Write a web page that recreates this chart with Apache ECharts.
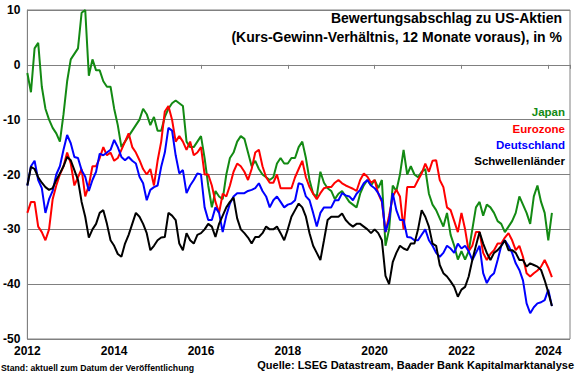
<!DOCTYPE html>
<html>
<head>
<meta charset="utf-8">
<script src="https://cdn.jsdelivr.net/npm/echarts@6/dist/echarts.min.js"></script>
<style>
  html, body { margin: 0; padding: 0; background: #fff; }
  #chart { width: 580px; height: 375px; }
</style>
</head>
<body>
<div id="chart"></div>
<script>
// monthly values, Jan 2012 .. Feb 2024
const startYear = 2012;

const japan = [
  -1.5, -5, 3, 4, -4, -8, -10, -11.5, -12.5, -14, -9, -3,
  1, 2, 3, 9.5, 10, -2, 1, -1, -1, -3, -4, -4,
  -8, -11, -15, -14, -13, -12, -11, -10, -8, -9, -11, -9.5,
  -12, -12, -9.5, -8, -7, -6.5, -7, -7.5, -14, -15, -15, -14,
  -13, -17, -22, -26, -23, -24, -24.5, -20, -17, -16, -14, -13,
  -13.5, -16, -18.5, -17.5, -19, -20, -20.5, -21, -20.5, -18, -17, -18,
  -18, -17, -17, -15, -14, -17, -21, -23.5, -24, -19.5, -21.5, -22.5,
  -23, -24.5, -23.5, -23, -24, -25, -25.5, -26, -23.5, -22, -21, -22,
  -21, -22.5, -21, -33, -30, -22, -23, -20, -15.5, -20, -18.5, -20,
  -20.5, -19.5, -19, -23.5, -25.5, -26.5, -28, -29.5, -27, -31, -33, -35.5,
  -34, -35.5, -34, -30, -26, -25, -27.5, -25.5, -26, -27, -28.5, -29,
  -30.5, -29.5, -28.5, -27, -24, -25.5, -27, -29, -24, -22, -25, -27,
  -32, -27
];

const eurozone = [
  -27, -25, -25, -29.5, -30.5, -32, -30, -24.5, -22, -20, -18.5, -16,
  -18, -22, -20.5, -19, -24, -22, -18.5, -18.5, -17, -15, -16.5, -16,
  -17.5, -17, -15.5, -14, -12.5, -15, -16, -17.4, -19, -20, -19, -22,
  -17.5, -14, -8.5, -7.5, -10, -14, -13, -14, -15.5, -14, -16.5, -16,
  -15, -20, -20, -22, -25, -27, -23.5, -24, -22, -19.5, -18, -18.5,
  -19.5, -21, -19, -16, -15.5, -18.5, -20.5, -21.5, -21.5, -20, -22.5, -22.5,
  -22.5, -22.5, -20.5, -19, -17.5, -20.5, -22.3, -23.5, -24.5, -23.4, -22.5, -22.3,
  -22.3, -21.5, -21, -21.6, -22, -22.3, -22.6, -23, -21, -19.8, -20.4, -21.5,
  -21, -23.5, -25, -30.5, -27.5, -24, -22.8, -24, -30, -22.3, -22.3, -22.3,
  -21, -19.8, -18, -19.5, -17.5, -17.4, -21, -22.3, -26, -26.5, -28.5, -30.5,
  -27, -30, -34, -33, -30.5, -30.5, -34.3, -35.6, -34.5, -33.8, -32.6, -32.6,
  -31.5, -30.7, -32, -33.8, -33, -35, -38, -38.6, -38, -37.5, -36.8, -35.6,
  -37, -38.7
];

const deutschland = [
  -22, -18.5, -17.5, -21, -22.5, -27, -24.5, -23, -20, -18.5, -15.5, -12.8,
  -14.3, -16.8, -17, -19.2, -20.4, -23, -21, -19.5, -16.2, -16.5, -16, -15.5,
  -13.7, -15, -16.8, -17.4, -16.8, -17.5, -18, -20.4, -21.6, -24.7, -22.8, -22.3,
  -22, -18.6, -16, -11.5, -12, -16.5, -19.8, -19.2, -23.4, -22, -21, -19.8,
  -20, -26, -28.3, -28.3, -26, -27, -30.5, -27.5, -25.3, -24, -23.4, -23.4,
  -23.4, -23, -22.8, -22.5, -21.6, -23, -24, -26, -24.7, -24, -25, -26,
  -25.5, -25.3, -24.7, -21.6, -21.8, -24, -24.7, -27, -29.5, -27, -26, -26,
  -26, -24.7, -24.7, -23.4, -23.8, -24, -24.7, -23.5, -22.8, -21.6, -21, -22,
  -22.5, -23.4, -24.7, -30.5, -28.3, -23.4, -26.5, -28.3, -28.3, -31.4, -31.5, -32,
  -32, -31, -30, -32, -33, -34.3, -35, -34.3, -33, -33.5, -34.3, -32.6,
  -33.5, -33, -34, -35.6, -34.3, -33, -38, -39.8, -38.6, -38, -35.6, -33,
  -32, -33, -34.3, -36.2, -37.4, -39.3, -43.5, -45.3, -44.2, -43.5, -43.3, -42.9,
  -41, -44
];

const schwellenlaender = [
  -22, -18.6, -19, -20.5, -21.5, -22.3, -22.8, -22.5, -21, -19.8, -18.5, -16.8,
  -17.4, -19.2, -21, -25, -27.7, -31.5, -30, -29, -27, -26.5, -29, -32,
  -33, -34.5, -35, -32.6, -31, -29, -27, -27.7, -29, -30.7, -33.8, -33,
  -32, -31.5, -31.4, -27, -27.5, -28.3, -32.6, -33.8, -30.7, -32, -32.6, -31,
  -30.7, -30, -29, -29.5, -31.4, -29, -27.5, -26, -25, -24.2, -28, -30,
  -30.7, -31.5, -32.6, -31.4, -31.4, -30.7, -29.5, -30, -30, -29.5, -30.7, -32,
  -30, -27.7, -26.5, -25.3, -26, -27.7, -30.7, -33, -34.3, -35.6, -32, -28.3,
  -27.7, -27.7, -27.7, -27.1, -28.3, -29, -29.5, -29, -29, -29.5, -30, -30.7,
  -30, -30.7, -32, -38.5, -40, -36, -34.3, -33, -33.5, -33.8, -32.6, -32.6,
  -30, -26.5, -27.7, -29.5, -32.6, -33, -36.5, -38, -38.6, -39.5, -40.5, -42.3,
  -41, -40.5, -38.6, -35.6, -33, -30.5, -32.6, -34.3, -35.6, -34.3, -33.8, -33,
  -32, -33.8, -33.8, -34.3, -35.6, -35.6, -36.8, -36.2, -36.5, -36.8, -37.4, -39.3,
  -41.5, -44
];

const seriesNames = ['Japan', 'Eurozone', 'Deutschland', 'Schwellenländer'];
const seriesColors = ['#138a13', '#ff0000', '#0000ff', '#000000'];
const seriesValues = [japan, eurozone, deutschland, schwellenlaender];

const titleLines = [
  'Bewertungsabschlag zu US-Aktien',
  '(Kurs-Gewinn-Verhältnis, 12 Monate voraus), in %'
];
const noteLeft = 'Stand: aktuell zum Datum der Veröffentlichung';
const noteRight = 'Quelle: LSEG Datastream, Baader Bank Kapitalmarktanalyse';

// month index -> decimal year
const toPoints = (vals) => vals.map((v, i) => [startYear + i / 12, v]);

const chart = echarts.init(document.getElementById('chart'), null, { renderer: 'svg' });

const font = '"Liberation Sans", Arial, sans-serif';

const graphic = [];
titleLines.forEach((t, i) => {
  graphic.push({
    type: 'text', x: 562, y: 18 + i * 19,
    style: { text: t, align: 'right', verticalAlign: 'middle', fill: '#000', font: 'bold 14px ' + font }
  });
});
seriesNames.forEach((name, i) => {
  graphic.push({
    type: 'text', x: 565, y: [112, 129, 145, 161][i],
    style: { text: name, align: 'right', verticalAlign: 'middle', fill: seriesColors[i], font: 'bold 11.5px ' + font }
  });
});
graphic.push({
  type: 'text', x: 1, y: 368,
  style: { text: noteLeft, align: 'left', verticalAlign: 'middle', fill: '#000', font: 'bold 8.7px ' + font }
});
graphic.push({
  type: 'text', x: 574, y: 365,
  style: { text: noteRight, align: 'right', verticalAlign: 'middle', fill: '#000', font: 'bold 11px ' + font }
});

const option = {
  backgroundColor: '#fff',
  animation: false,
  grid: { left: 27, right: 10, top: 10, bottom: 36, show: true, borderColor: '#808080', borderWidth: 1 },
  xAxis: {
    type: 'value',
    min: 2012,
    max: 2024.5,
    interval: 2,
    axisLine: { lineStyle: { color: '#808080' } },
    axisTick: { show: true, length: 4, lineStyle: { color: '#808080' } },
    splitLine: { show: false },
    axisLabel: {
      color: '#000', fontWeight: 'bold', fontSize: 12, fontFamily: font, margin: 6,
      formatter: (v) => (Number.isInteger(v) ? String(v) : '')
    }
  },
  yAxis: {
    type: 'value',
    min: -50,
    max: 10,
    interval: 10,
    axisLine: { show: true, lineStyle: { color: '#808080' } },
    axisTick: { show: false },
    splitLine: { lineStyle: { color: '#808080', width: 1 } },
    axisLabel: { color: '#000', fontWeight: 'bold', fontSize: 12, fontFamily: font, margin: 7 }
  },
  graphic: graphic,
  series: seriesNames.map((name, i) => ({
    name: name,
    type: 'line',
    data: toPoints(seriesValues[i]),
    showSymbol: false,
    symbol: 'none',
    lineStyle: { color: seriesColors[i], width: 2 },
    z: 2 + i
  }))
};

chart.setOption(option);
</script>
</body>
</html>
